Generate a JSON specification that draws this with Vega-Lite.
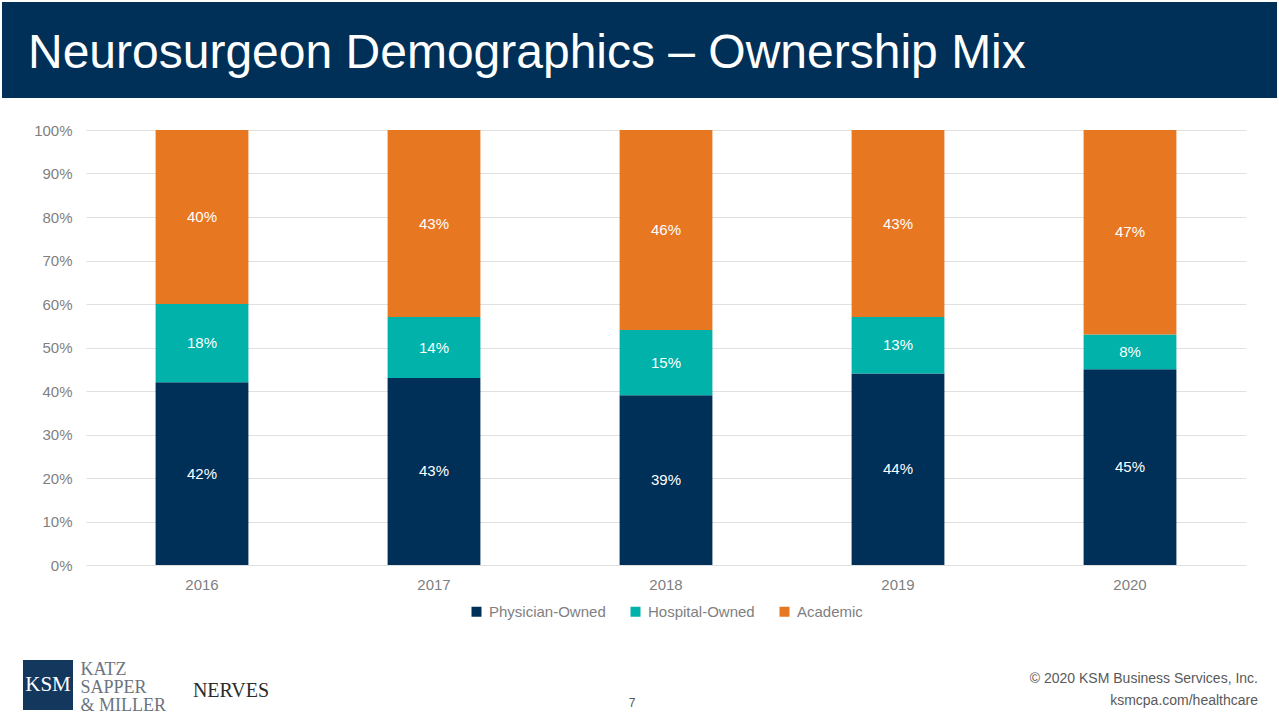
{
  "$schema": "https://vega.github.io/schema/vega-lite/v6.json",
  "padding": {"left": 2, "top": 2, "right": 2, "bottom": 0},
  "background": "white",
  "config": {"view": {"stroke": null}, "font": "Liberation Sans", "legend": {"layout": {"bottom": {"anchor": "middle"}}}},
  "title": {
    "text": "© 2020 KSM Business Services, Inc.",
    "subtitle": "ksmcpa.com/healthcare",
    "orient": "bottom",
    "anchor": "end",
    "frame": "bounds",
    "offset": -43,
    "dx": -19,
    "fontSize": 14,
    "subtitleFontSize": 14,
    "fontWeight": "normal",
    "color": "#595959",
    "subtitleColor": "#595959",
    "font": "Liberation Sans",
    "subtitleFont": "Liberation Sans",
    "subtitlePadding": 8
  },
  "spacing": 25,
  "resolve": {"scale": {"color": "independent"}, "legend": {"color": "independent"}},
  "vconcat": [
    {
      "width": 1275,
      "height": 96,
      "data": {"values": [{"panel": "header"}]},
      "mark": {"type": "rect", "color": "#003057"},
      "encoding": {},
      "title": {
        "text": "Neurosurgeon Demographics – Ownership Mix",
        "orient": "bottom",
        "anchor": "start",
        "frame": "group",
        "offset": -68,
        "dx": 26,
        "baseline": "top",
        "fontSize": 48,
        "fontWeight": "normal",
        "color": "#ffffff",
        "font": "Liberation Sans"
      }
    },
    {
      "spacing": 40,
      "resolve": {"scale": {"color": "independent"}, "legend": {"color": "independent"}},
      "vconcat": [
        {
          "spacing": 0,
          "resolve": {"scale": {"color": "independent"}, "legend": {"color": "independent"}},
          "hconcat": [
            {
              "width": 1,
              "height": 435,
              "data": {"values": [{"panel": "gutter"}]},
              "mark": {"type": "rect", "opacity": 0},
              "encoding": {}
            },
            {
              "width": 1160,
              "height": 435,
              "data": {
                "values": [
                  {"year": "2016", "ownership": "Physician-Owned", "share": 0.42},
                  {"year": "2016", "ownership": "Hospital-Owned", "share": 0.18},
                  {"year": "2016", "ownership": "Academic", "share": 0.40},
                  {"year": "2017", "ownership": "Physician-Owned", "share": 0.43},
                  {"year": "2017", "ownership": "Hospital-Owned", "share": 0.14},
                  {"year": "2017", "ownership": "Academic", "share": 0.43},
                  {"year": "2018", "ownership": "Physician-Owned", "share": 0.39},
                  {"year": "2018", "ownership": "Hospital-Owned", "share": 0.15},
                  {"year": "2018", "ownership": "Academic", "share": 0.46},
                  {"year": "2019", "ownership": "Physician-Owned", "share": 0.44},
                  {"year": "2019", "ownership": "Hospital-Owned", "share": 0.13},
                  {"year": "2019", "ownership": "Academic", "share": 0.43},
                  {"year": "2020", "ownership": "Physician-Owned", "share": 0.45},
                  {"year": "2020", "ownership": "Hospital-Owned", "share": 0.08},
                  {"year": "2020", "ownership": "Academic", "share": 0.47}
                ]
              },
              "encoding": {
                "x": {
                  "field": "year",
                  "type": "ordinal",
                  "scale": {"paddingInner": 0.6, "paddingOuter": 0.3},
                  "axis": {
                    "title": null,
                    "labelAngle": 0,
                    "ticks": false,
                    "tickSize": 0,
                    "domain": false,
                    "grid": false,
                    "labelPadding": 12,
                    "labelFontSize": 15,
                    "labelColor": "#7f7f7f",
                    "labelFont": "Liberation Sans"
                  }
                },
                "y": {
                  "field": "share",
                  "type": "quantitative",
                  "stack": "zero",
                  "scale": {"domain": [0, 1]},
                  "axis": {
                    "title": null,
                    "values": [0, 0.1, 0.2, 0.3, 0.4, 0.5, 0.6, 0.7, 0.8, 0.9, 1],
                    "format": ".0%",
                    "domain": false,
                    "ticks": false,
                    "tickSize": 0,
                    "labelPadding": 14,
                    "labelFontSize": 15,
                    "labelColor": "#7f7f7f",
                    "labelFont": "Liberation Sans",
                    "gridColor": "#e0e0e0",
                    "minExtent": 83
                  }
                },
                "order": {"field": "ownership", "sort": "descending"}
              },
              "layer": [
                {
                  "mark": {"type": "bar"},
                  "encoding": {
                    "color": {
                      "field": "ownership",
                      "type": "nominal",
                      "sort": ["Physician-Owned", "Hospital-Owned", "Academic"],
                      "scale": {
                        "domain": ["Physician-Owned", "Hospital-Owned", "Academic"],
                        "range": ["#003057", "#00b2a9", "#e87722"]
                      },
                      "legend": {
                        "title": null,
                        "orient": "bottom",
                        "direction": "horizontal",
                        "symbolType": "square",
                        "symbolSize": 100,
                        "symbolStrokeWidth": 0,
                        "labelFontSize": 15,
                        "labelColor": "#7f7f7f",
                        "labelFont": "Liberation Sans",
                        "columnPadding": 22,
                        "labelOffset": 5,
                        "offset": 12
                      }
                    }
                  }
                },
                {
                  "mark": {"type": "text", "fontSize": 15, "font": "Liberation Sans", "color": "#ffffff"},
                  "encoding": {
                    "detail": {"field": "ownership", "type": "nominal"},
                    "y": {"field": "share", "type": "quantitative", "stack": "zero", "bandPosition": 0.5},
                    "text": {"field": "share", "type": "quantitative", "format": ".0%"}
                  }
                }
              ]
            }
          ]
        },
        {
          "spacing": 24,
          "hconcat": [
            {
              "spacing": 20,
              "hconcat": [
                {
                  "width": 1,
                  "height": 50,
                  "data": {"values": [{"panel": "gutter"}]},
                  "mark": {"type": "rect", "opacity": 0},
                  "encoding": {}
                },
                {
                  "spacing": 7,
                  "hconcat": [
                    {
                      "width": 50,
                      "height": 50,
                      "data": {"values": [{"firm": "KSM"}]},
                      "encoding": {
                        "y": {
                          "field": "firm",
                          "type": "nominal",
                          "scale": {"paddingInner": 0, "paddingOuter": 0},
                          "axis": null
                        }
                      },
                      "layer": [
                        {"mark": {"type": "rect", "color": "#14375e"}},
                        {
                          "mark": {"type": "text", "color": "#ffffff", "font": "Liberation Serif", "fontSize": 21},
                          "encoding": {"text": {"field": "firm"}}
                        }
                      ]
                    },
                    {
                      "width": 1,
                      "height": 50,
                      "data": {"values": [{"name": "KATZ\nSAPPER\n& MILLER"}]},
                      "mark": {"type": "text", "align": "left", "baseline": "middle", "lineBreak": "\n", "lineHeight": 18, "dy": -15, "font": "Liberation Serif", "fontSize": 18, "color": "#6b7480"},
                      "encoding": {"text": {"field": "name"}}
                    }
                  ]
                }
              ]
            },
            {
              "width": 82,
              "height": 50,
              "data": {"values": [{"org": "NERVES"}]},
              "mark": {"type": "text", "font": "Liberation Serif", "fontSize": 20, "color": "#2b2b2b", "dy": 6},
              "encoding": {"text": {"field": "org"}}
            },
            {
              "width": 672,
              "height": 50,
              "data": {"values": [{"page": "7"}]},
              "mark": {"type": "text", "fontSize": 12, "color": "#595959", "dy": 18},
              "encoding": {"text": {"field": "page"}}
            }
          ]
        }
      ]
    }
  ]
}
